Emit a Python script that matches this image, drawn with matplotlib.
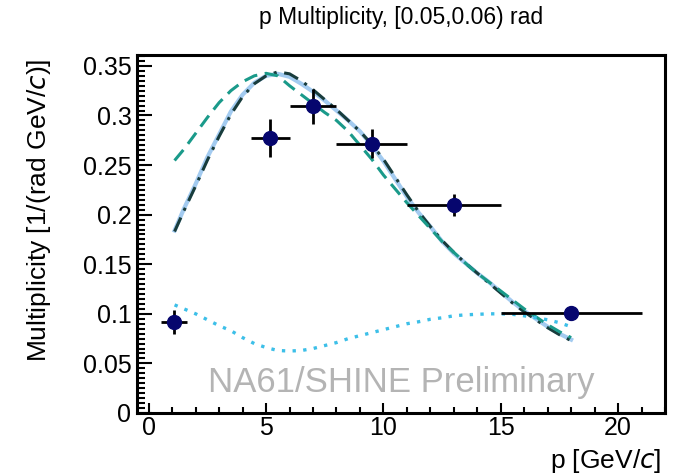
import numpy as np
import matplotlib.pyplot as plt
from matplotlib.ticker import MultipleLocator

plt.rcParams["font.family"] = ["Liberation Sans", "DejaVu Sans"]

# data points (p bins, multiplicity)
p_pts = [1.07, 5.18, 7.0, 9.5, 13.0, 18.0]
p_lo = [0.53, 4.35, 6.0, 8.0, 11.0, 15.0]
p_hi = [1.64, 6.0, 8.0, 11.0, 15.0, 21.0]
mult = [0.0917, 0.2776, 0.3092, 0.2715, 0.2101, 0.1005]
mult_err = [0.0118, 0.019, 0.018, 0.0145, 0.011, 0.004]

# model curves
p_curve = [1.1, 1.5, 2.0, 2.5, 3.0, 3.5, 4.0, 4.5, 5.0, 5.5, 6.0, 6.5,
           7.0, 7.5, 8.0, 8.5, 9.0, 9.5, 10.0, 10.5, 11.0, 11.5, 12.0,
           12.5, 13.0, 13.5, 14.0, 14.5, 15.0, 15.5, 16.0, 16.5, 17.0,
           17.5, 18.0]
model_solid = [0.184, 0.206, 0.231, 0.258, 0.281, 0.304, 0.321, 0.333,
               0.340, 0.342, 0.339, 0.332, 0.324, 0.315, 0.305, 0.295,
               0.284, 0.270, 0.254, 0.236, 0.218, 0.202, 0.188, 0.173,
               0.161, 0.151, 0.141, 0.132, 0.122, 0.112, 0.103, 0.095,
               0.087, 0.080, 0.074]
model_dashdot = [0.183, 0.204, 0.229, 0.255, 0.279, 0.301, 0.319, 0.332,
                 0.340, 0.344, 0.342, 0.335, 0.326, 0.316, 0.306, 0.295,
                 0.284, 0.271, 0.256, 0.238, 0.220, 0.203, 0.188, 0.174,
                 0.162, 0.151, 0.141, 0.131, 0.121, 0.111, 0.102, 0.094,
                 0.086, 0.079, 0.073]
model_dashed = [0.2546, 0.266, 0.282, 0.298, 0.313, 0.325, 0.334, 0.340,
                0.3425, 0.340, 0.330, 0.321, 0.312, 0.303, 0.295, 0.284,
                0.270, 0.256, 0.240, 0.226, 0.212, 0.199, 0.186, 0.173,
                0.162, 0.151, 0.141, 0.132, 0.123, 0.114, 0.105, 0.097,
                0.089, 0.082, 0.076]
model_dotted = [0.109, 0.105, 0.100, 0.094, 0.088, 0.083, 0.076, 0.070,
                0.066, 0.063, 0.0625, 0.063, 0.065, 0.068, 0.071, 0.075,
                0.078, 0.081, 0.084, 0.087, 0.090, 0.092, 0.0945, 0.096,
                0.098, 0.099, 0.0995, 0.100, 0.100, 0.0995, 0.098, 0.096,
                0.094, 0.091, 0.087]

fig = plt.figure(figsize=(6.76, 4.74), dpi=100)
ax = fig.add_axes([0.2027, 0.1287, 0.7810, 0.7553])

ax.plot(p_curve, model_solid, "-", color="#a3cbf0", lw=3.0, zorder=2)
ax.plot(p_curve, model_dashdot, color="#183c3c", lw=2.2,
        dashes=(5, 2.5, 1, 2.5), zorder=3)
ax.plot(p_curve, model_dashed, color="#1a9a8a", lw=2.2,
        dashes=(4.5, 2.5), zorder=3)
ax.plot(p_curve, model_dotted, color="#3cbfe8", lw=2.4,
        dashes=(1, 2.2), zorder=3)

p_pts_a = np.array(p_pts)
xerr = [p_pts_a - np.array(p_lo), np.array(p_hi) - p_pts_a]
ax.errorbar(p_pts, mult, xerr=xerr, yerr=mult_err, fmt="o", color="black",
            ecolor="black", elinewidth=2.0, capsize=0, markersize=10,
            markerfacecolor="#06066e", markeredgecolor="#06066e", zorder=5)

ax.text(0.5, 0.085, "NA61/SHINE Preliminary", transform=ax.transAxes,
        ha="center", va="center", fontsize=25, color="#b4b4b4", zorder=1)

ax.set_xlim(-0.5, 22)
ax.set_ylim(0, 0.361)
ax.xaxis.set_major_locator(MultipleLocator(5))
ax.xaxis.set_minor_locator(MultipleLocator(1))
ax.yaxis.set_minor_locator(MultipleLocator(0.005))
ax.set_yticks([0, 0.05, 0.1, 0.15, 0.2, 0.25, 0.3, 0.35])
ax.set_yticklabels(["0", "0.05", "0.1", "0.15", "0.2", "0.25", "0.3", "0.35"])

for s in ax.spines.values():
    s.set_linewidth(2.2)
ax.tick_params(axis="both", which="both", direction="in", top=False,
               right=False, width=1.5, labelsize=18)
ax.tick_params(axis="y", which="major", length=11, pad=4)
ax.tick_params(axis="y", which="minor", length=6)
ax.tick_params(axis="x", which="major", length=7.5, pad=2)
ax.tick_params(axis="x", which="minor", length=4.5)

ax.set_title("p Multiplicity, [0.05,0.06) rad", fontsize=16.5, pad=22)
ax.set_xlabel("p [GeV/$c$]", loc="right", fontsize=19)
ax.xaxis.set_label_coords(0.994, -0.095)
ax.set_ylabel("Multiplicity [1/(rad GeV/$c$)]", loc="top", fontsize=19)
ax.yaxis.set_label_coords(-0.16, 0.99)

fig.savefig("out.png", dpi=100)
